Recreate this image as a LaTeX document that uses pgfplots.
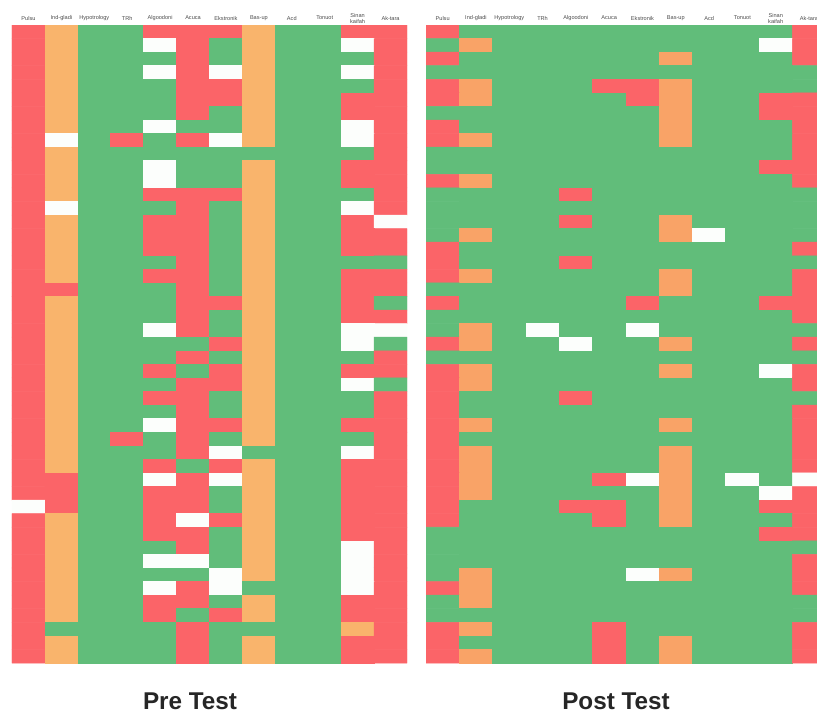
\documentclass[border=0pt]{standalone}
\usepackage{fontspec}
\setmainfont{Liberation Sans}
\usepackage{pgfplots}
\pgfplotsset{compat=1.18}
% 0 = green, 1 = red, 2 = orange, 3 = white; one line per row, 12 columns
\pgfplotsset{
 heat/.style={
  scale only axis,
  height=478.5pt,
  anchor=south west,
  y dir=reverse,
  ymin=-0.5,ymax=46.5,
  xmin=-0.5,
  ytick=\empty,
  xtick={0,1,...,11},
  xticklabels={Pulsu,Ind-gladi,Hypotrology,TRh,Algoodoni,Acuca,Ekstronik,Bas-up,Acd,Tonuot,{Sinan\\kaifah},Ak-tara},
  xticklabel pos=right,
  x tick label style={font=\fontsize{4.2}{4.6}\selectfont,text=black!70,align=center,anchor=center,yshift=5.2pt},
  major tick length=0pt,
  axis line style={draw=none},
  colormap access=piecewise constant,
  point meta min=-0.5,point meta max=3.5,
 },
 cells/.style={matrix plot*,mesh/cols=12,point meta=explicit},
}
\begin{document}
\begin{tikzpicture}
\path[use as bounding box] (0pt,0pt) rectangle (612.75pt,536.25pt);
\begin{axis}[heat,at={(9pt,39pt)},width=296.25pt,xmax=11.5,
 colormap={pre}{rgb255=(97,189,122) rgb255=(251,100,104) rgb255=(249,180,108) rgb255=(252,254,252)}]
\addplot[cells] table[row sep=crcr,header=false,meta index=0,x expr={mod(\coordindex,12)},y expr={floor((\coordindex+0.5)/12)}] {
1\\2\\0\\0\\1\\1\\1\\2\\0\\0\\1\\1\\
1\\2\\0\\0\\3\\1\\0\\2\\0\\0\\3\\1\\
1\\2\\0\\0\\0\\1\\0\\2\\0\\0\\0\\1\\
1\\2\\0\\0\\3\\1\\3\\2\\0\\0\\3\\1\\
1\\2\\0\\0\\0\\1\\1\\2\\0\\0\\0\\1\\
1\\2\\0\\0\\0\\1\\1\\2\\0\\0\\1\\1\\
1\\2\\0\\0\\0\\1\\0\\2\\0\\0\\1\\1\\
1\\2\\0\\0\\3\\0\\0\\2\\0\\0\\3\\1\\
1\\3\\0\\1\\0\\1\\3\\2\\0\\0\\3\\1\\
1\\2\\0\\0\\0\\0\\0\\0\\0\\0\\0\\1\\
1\\2\\0\\0\\3\\0\\0\\2\\0\\0\\1\\1\\
1\\2\\0\\0\\3\\0\\0\\2\\0\\0\\1\\1\\
1\\2\\0\\0\\1\\1\\1\\2\\0\\0\\0\\1\\
1\\3\\0\\0\\0\\1\\0\\2\\0\\0\\3\\1\\
1\\2\\0\\0\\1\\1\\0\\2\\0\\0\\1\\3\\
1\\2\\0\\0\\1\\1\\0\\2\\0\\0\\1\\1\\
1\\2\\0\\0\\1\\1\\0\\2\\0\\0\\1\\1\\
1\\2\\0\\0\\0\\1\\0\\2\\0\\0\\0\\0\\
1\\2\\0\\0\\1\\1\\0\\2\\0\\0\\1\\1\\
1\\1\\0\\0\\0\\1\\0\\2\\0\\0\\1\\1\\
1\\2\\0\\0\\0\\1\\1\\2\\0\\0\\1\\0\\
1\\2\\0\\0\\0\\1\\0\\2\\0\\0\\1\\1\\
1\\2\\0\\0\\3\\1\\0\\2\\0\\0\\3\\3\\
1\\2\\0\\0\\0\\0\\1\\2\\0\\0\\3\\0\\
1\\2\\0\\0\\0\\1\\0\\2\\0\\0\\0\\1\\
1\\2\\0\\0\\1\\0\\1\\2\\0\\0\\1\\1\\
1\\2\\0\\0\\0\\1\\1\\2\\0\\0\\3\\0\\
1\\2\\0\\0\\1\\1\\0\\2\\0\\0\\0\\1\\
1\\2\\0\\0\\0\\1\\0\\2\\0\\0\\0\\1\\
1\\2\\0\\0\\3\\1\\1\\2\\0\\0\\1\\1\\
1\\2\\0\\1\\0\\1\\0\\2\\0\\0\\0\\1\\
1\\2\\0\\0\\0\\1\\3\\0\\0\\0\\3\\1\\
1\\2\\0\\0\\1\\0\\1\\2\\0\\0\\1\\1\\
1\\1\\0\\0\\3\\1\\3\\2\\0\\0\\1\\1\\
1\\1\\0\\0\\1\\1\\0\\2\\0\\0\\1\\1\\
3\\1\\0\\0\\1\\1\\0\\2\\0\\0\\1\\1\\
1\\2\\0\\0\\1\\3\\1\\2\\0\\0\\1\\1\\
1\\2\\0\\0\\1\\1\\0\\2\\0\\0\\1\\1\\
1\\2\\0\\0\\0\\1\\0\\2\\0\\0\\3\\1\\
1\\2\\0\\0\\3\\3\\0\\2\\0\\0\\3\\1\\
1\\2\\0\\0\\0\\0\\3\\2\\0\\0\\3\\1\\
1\\2\\0\\0\\3\\1\\3\\0\\0\\0\\3\\1\\
1\\2\\0\\0\\1\\1\\0\\2\\0\\0\\1\\1\\
1\\2\\0\\0\\1\\0\\1\\2\\0\\0\\1\\1\\
1\\0\\0\\0\\0\\1\\0\\0\\0\\0\\2\\1\\
1\\2\\0\\0\\0\\1\\0\\2\\0\\0\\1\\1\\
1\\2\\0\\0\\0\\1\\0\\2\\0\\0\\1\\1\\
};
\end{axis}
\begin{axis}[heat,at={(319.5pt,39pt)},width=293.25pt,xmax=11.24,
 colormap={post}{rgb255=(97,189,122) rgb255=(251,100,104) rgb255=(249,163,103) rgb255=(252,254,252)}]
\addplot[cells] table[row sep=crcr,header=false,meta index=0,x expr={mod(\coordindex,12)},y expr={floor((\coordindex+0.5)/12)}] {
1\\0\\0\\0\\0\\0\\0\\0\\0\\0\\0\\1\\
0\\2\\0\\0\\0\\0\\0\\0\\0\\0\\3\\1\\
1\\0\\0\\0\\0\\0\\0\\2\\0\\0\\0\\1\\
0\\0\\0\\0\\0\\0\\0\\0\\0\\0\\0\\0\\
1\\2\\0\\0\\0\\1\\1\\2\\0\\0\\0\\0\\
1\\2\\0\\0\\0\\0\\1\\2\\0\\0\\1\\1\\
0\\0\\0\\0\\0\\0\\0\\2\\0\\0\\1\\1\\
1\\0\\0\\0\\0\\0\\0\\2\\0\\0\\0\\1\\
1\\2\\0\\0\\0\\0\\0\\2\\0\\0\\0\\1\\
0\\0\\0\\0\\0\\0\\0\\0\\0\\0\\0\\1\\
0\\0\\0\\0\\0\\0\\0\\0\\0\\0\\1\\1\\
1\\2\\0\\0\\0\\0\\0\\0\\0\\0\\0\\1\\
0\\0\\0\\0\\1\\0\\0\\0\\0\\0\\0\\0\\
0\\0\\0\\0\\0\\0\\0\\0\\0\\0\\0\\0\\
0\\0\\0\\0\\1\\0\\0\\2\\0\\0\\0\\0\\
0\\2\\0\\0\\0\\0\\0\\2\\3\\0\\0\\0\\
1\\0\\0\\0\\0\\0\\0\\0\\0\\0\\0\\1\\
1\\0\\0\\0\\1\\0\\0\\0\\0\\0\\0\\0\\
1\\2\\0\\0\\0\\0\\0\\2\\0\\0\\0\\1\\
0\\0\\0\\0\\0\\0\\0\\2\\0\\0\\0\\1\\
1\\0\\0\\0\\0\\0\\1\\0\\0\\0\\1\\1\\
0\\0\\0\\0\\0\\0\\0\\0\\0\\0\\0\\1\\
0\\2\\0\\3\\0\\0\\3\\0\\0\\0\\0\\0\\
1\\2\\0\\0\\3\\0\\0\\2\\0\\0\\0\\1\\
0\\0\\0\\0\\0\\0\\0\\0\\0\\0\\0\\0\\
1\\2\\0\\0\\0\\0\\0\\2\\0\\0\\3\\1\\
1\\2\\0\\0\\0\\0\\0\\0\\0\\0\\0\\1\\
1\\0\\0\\0\\1\\0\\0\\0\\0\\0\\0\\0\\
1\\0\\0\\0\\0\\0\\0\\0\\0\\0\\0\\1\\
1\\2\\0\\0\\0\\0\\0\\2\\0\\0\\0\\1\\
1\\0\\0\\0\\0\\0\\0\\0\\0\\0\\0\\1\\
1\\2\\0\\0\\0\\0\\0\\2\\0\\0\\0\\1\\
1\\2\\0\\0\\0\\0\\0\\2\\0\\0\\0\\1\\
1\\2\\0\\0\\0\\1\\3\\2\\0\\3\\0\\3\\
1\\2\\0\\0\\0\\0\\0\\2\\0\\0\\3\\1\\
1\\0\\0\\0\\1\\1\\0\\2\\0\\0\\1\\1\\
1\\0\\0\\0\\0\\1\\0\\2\\0\\0\\0\\1\\
0\\0\\0\\0\\0\\0\\0\\0\\0\\0\\1\\1\\
0\\0\\0\\0\\0\\0\\0\\0\\0\\0\\0\\0\\
0\\0\\0\\0\\0\\0\\0\\0\\0\\0\\0\\1\\
0\\2\\0\\0\\0\\0\\3\\2\\0\\0\\0\\1\\
1\\2\\0\\0\\0\\0\\0\\0\\0\\0\\0\\1\\
0\\2\\0\\0\\0\\0\\0\\0\\0\\0\\0\\0\\
0\\0\\0\\0\\0\\0\\0\\0\\0\\0\\0\\0\\
1\\2\\0\\0\\0\\1\\0\\0\\0\\0\\0\\1\\
1\\0\\0\\0\\0\\1\\0\\2\\0\\0\\0\\1\\
1\\2\\0\\0\\0\\1\\0\\2\\0\\0\\0\\1\\
};
\end{axis}
\node[font=\fontsize{18.2}{20}\selectfont\bfseries,text=black!85] at (142.5pt,10pt) {Pre Test};
\node[font=\fontsize{18.2}{20}\selectfont\bfseries,text=black!85] at (462pt,10pt) {Post Test};
\end{tikzpicture}
\end{document}
